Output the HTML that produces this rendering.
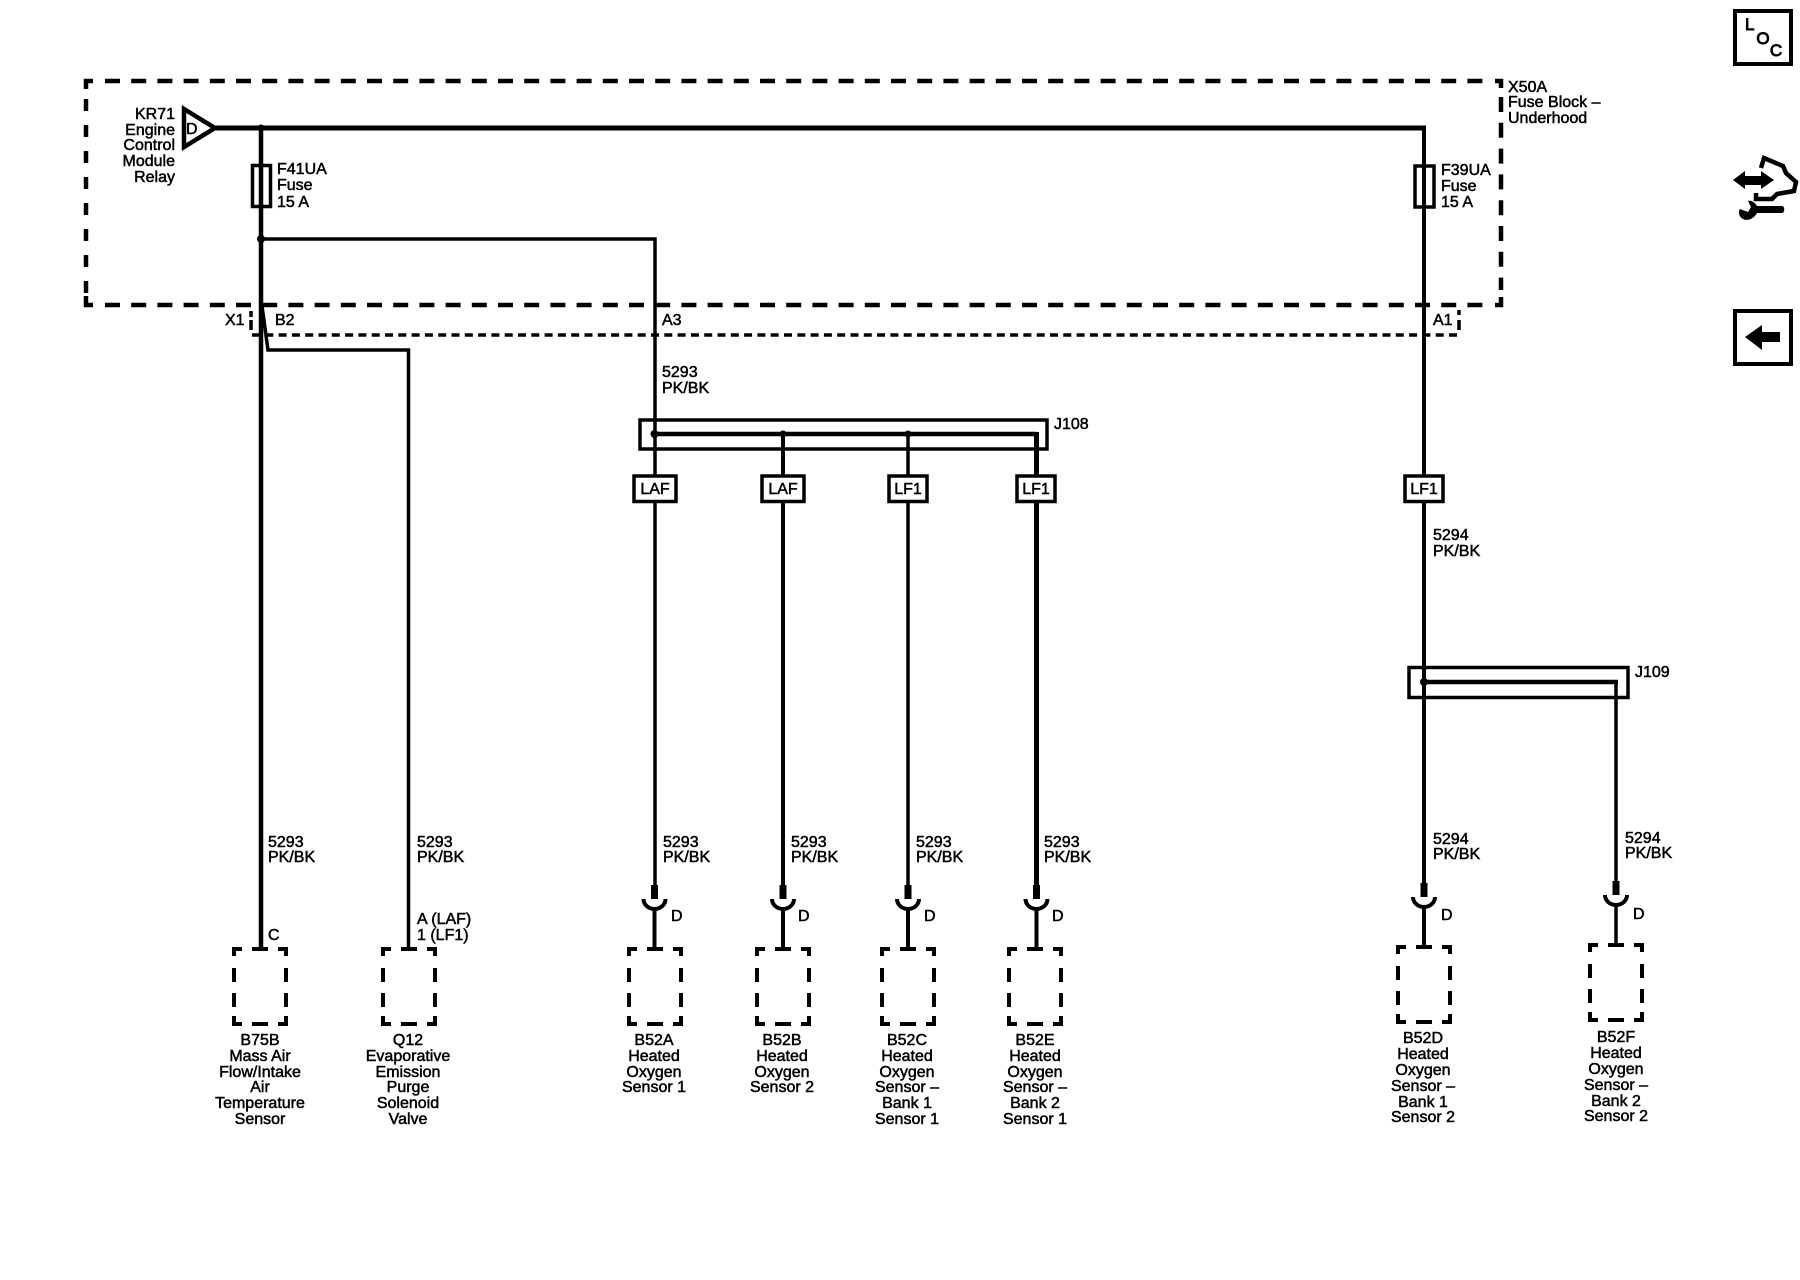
<!DOCTYPE html>
<html>
<head>
<meta charset="utf-8">
<style>
html,body{margin:0;padding:0;background:#fff}
svg{display:block}
text{font-family:"Liberation Sans",sans-serif;font-size:16px;fill:#000;stroke:#000;stroke-width:.5}
.m{text-anchor:middle}
.e{text-anchor:end}
.b{font-size:17px;stroke-width:.9}
</style>
</head>
<body>
<svg width="1800" height="1280" viewBox="0 0 1800 1280" xmlns="http://www.w3.org/2000/svg">
<defs>
<g id="box" fill="none" stroke="#000" stroke-width="4">
<path d="M8 0H0V7M44 0H52V7M0 67V75H8M52 67V75H44M18 0H34M18 75H34M0 19V33M0 44V58M52 19V33M52 44V58"/>
</g>
<g id="conn" fill="none" stroke="#000">
<path d="M0 -14V0" stroke-width="7"/>
<path d="M-11 0A11 10 0 0 0 11 0" stroke-width="4"/>
</g>
</defs>
<rect width="1800" height="1280" fill="#fff"/>

<!-- fuse block dashed outline -->
<g fill="none" stroke="#000" stroke-width="4.5">
<path d="M105 81H1492" stroke-dasharray="15 11.2"/>
<path d="M105 305H1492" stroke-dasharray="15 11.2"/>
<path d="M86 99V296" stroke-dasharray="12 14"/>
<path d="M1501 97V290" stroke-dasharray="15 10.8"/>
<path d="M93 81H86V89M93 305H86V296M1495 81H1501V88M1495 305H1501V297"/>
</g>
<!-- connector dashed -->
<g fill="none" stroke="#000" stroke-width="3.5">
<path d="M252 335H1459" stroke-dasharray="8 5.3"/>
<path d="M251 311V317M251 320V330M1459 310V315M1459 320V330"/>
</g>

<!-- wires -->
<g fill="none" stroke="#000" stroke-linejoin="miter">
<path d="M215 128H1426" stroke-width="5"/>
<path d="M1424 126V884" stroke-width="4"/>
<path d="M261 128V948" stroke-width="4.5"/>
<path d="M261 239H655V885" stroke-width="3.5"/>
<path d="M262 306L268 350H408.500V948" stroke-width="3.500"/>
<path d="M654.500 434H1036.500" stroke-width="4.500"/>
<path d="M783 434V885" stroke-width="4"/>
<path d="M908 434V885" stroke-width="3.500"/>
<path d="M1036.500 432V885" stroke-width="5"/>
<path d="M1424 682H1618" stroke-width="4.500"/>
<path d="M1616 680V882" stroke-width="3.500"/>
<path d="M654.500 909V948M783 909V948M908 909V948M1036.500 909V948M1424 908V947" stroke-width="4"/>
<path d="M1616 906V945" stroke-width="3.500"/>
</g>

<!-- relay triangle -->
<path d="M184 109L215 128L184 147Z" fill="#fff" stroke="#000" stroke-width="4.500"/>
<!-- fuses -->
<rect x="252.500" y="165.500" width="18" height="41" fill="none" stroke="#000" stroke-width="3.500"/>
<rect x="1415" y="166" width="19" height="41" fill="none" stroke="#000" stroke-width="3.500"/>
<!-- junction dots -->
<g fill="#000">
<circle cx="261" cy="128" r="3.500"/>
<circle cx="261" cy="239" r="4"/>
<circle cx="654.500" cy="434" r="4"/>
<circle cx="783" cy="434" r="3.500"/>
<circle cx="908" cy="434" r="3.500"/>
<circle cx="1424" cy="682" r="4"/>
</g>
<!-- splices -->
<rect x="640" y="420" width="407" height="29" fill="none" stroke="#000" stroke-width="3.500"/>
<rect x="1409" y="667.500" width="219" height="30" fill="none" stroke="#000" stroke-width="3.500"/>
<!-- option tags -->
<g fill="#fff" stroke="#000" stroke-width="3.500">
<rect x="634" y="476" width="42" height="25.500"/>
<rect x="762" y="476" width="42" height="25.500"/>
<rect x="889" y="476" width="38" height="25.500"/>
<rect x="1017" y="476" width="38" height="25.500"/>
<rect x="1405" y="476" width="38" height="25.500"/>
</g>
<!-- connectors -->
<use href="#conn" x="654.500" y="899"/>
<use href="#conn" x="783" y="899"/>
<use href="#conn" x="908" y="899"/>
<use href="#conn" x="1036.500" y="899"/>
<use href="#conn" x="1424" y="897"/>
<use href="#conn" x="1616" y="895"/>
<!-- component boxes -->
<use href="#box" x="234" y="949"/>
<use href="#box" x="383" y="949"/>
<use href="#box" x="629" y="949"/>
<use href="#box" x="757" y="949"/>
<use href="#box" x="882" y="949"/>
<use href="#box" x="1009" y="949"/>
<use href="#box" x="1398" y="947"/>
<use href="#box" x="1590" y="945"/>

<!-- labels top -->
<text class="e" x="175" y="119">KR71</text>
<text class="e" x="175" y="135">Engine</text>
<text class="e" x="175" y="150">Control</text>
<text class="e" x="175" y="166">Module</text>
<text class="e" x="175" y="182">Relay</text>
<text x="186" y="134">D</text>
<text x="277" y="174">F41UA</text>
<text x="277" y="190">Fuse</text>
<text x="277" y="207">15 A</text>
<text x="1441" y="175">F39UA</text>
<text x="1441" y="191">Fuse</text>
<text x="1441" y="207">15 A</text>
<text x="1508" y="92">X50A</text>
<text x="1508" y="107">Fuse Block –</text>
<text x="1508" y="123">Underhood</text>
<text x="225" y="325">X1</text>
<text x="275" y="325">B2</text>
<text x="662" y="325">A3</text>
<text x="1433" y="325">A1</text>
<text x="662" y="377">5293</text>
<text x="662" y="393">PK/BK</text>
<text x="1054" y="429">J108</text>
<text x="1635" y="677">J109</text>
<text x="1433" y="540">5294</text>
<text x="1433" y="556">PK/BK</text>

<!-- tags -->
<text class="m" x="655" y="494">LAF</text>
<text class="m" x="783" y="494">LAF</text>
<text class="m" x="908" y="494">LF1</text>
<text class="m" x="1036" y="494">LF1</text>
<text class="m" x="1424" y="494">LF1</text>

<!-- wire labels -->
<text x="268" y="847">5293</text><text x="268" y="862">PK/BK</text>
<text x="417" y="847">5293</text><text x="417" y="862">PK/BK</text>
<text x="663" y="847">5293</text><text x="663" y="862">PK/BK</text>
<text x="791" y="847">5293</text><text x="791" y="862">PK/BK</text>
<text x="916" y="847">5293</text><text x="916" y="862">PK/BK</text>
<text x="1044" y="847">5293</text><text x="1044" y="862">PK/BK</text>
<text x="1433" y="844">5294</text><text x="1433" y="859">PK/BK</text>
<text x="1625" y="843">5294</text><text x="1625" y="858">PK/BK</text>

<text x="268" y="940">C</text>
<text x="417" y="924">A (LAF)</text>
<text x="417" y="940">1 (LF1)</text>
<text x="671" y="921">D</text>
<text x="798" y="921">D</text>
<text x="924" y="921">D</text>
<text x="1052" y="921">D</text>
<text x="1441" y="920">D</text>
<text x="1633" y="919">D</text>

<!-- component labels -->
<g>
<text class="m" x="260" y="1045">B75B</text>
<text class="m" x="260" y="1061">Mass Air</text>
<text class="m" x="260" y="1077">Flow/Intake</text>
<text class="m" x="260" y="1092">Air</text>
<text class="m" x="260" y="1108">Temperature</text>
<text class="m" x="260" y="1124">Sensor</text>

<text class="m" x="408" y="1045">Q12</text>
<text class="m" x="408" y="1061">Evaporative</text>
<text class="m" x="408" y="1077">Emission</text>
<text class="m" x="408" y="1092">Purge</text>
<text class="m" x="408" y="1108">Solenoid</text>
<text class="m" x="408" y="1124">Valve</text>

<text class="m" x="654" y="1045">B52A</text>
<text class="m" x="654" y="1061">Heated</text>
<text class="m" x="654" y="1077">Oxygen</text>
<text class="m" x="654" y="1092">Sensor 1</text>

<text class="m" x="782" y="1045">B52B</text>
<text class="m" x="782" y="1061">Heated</text>
<text class="m" x="782" y="1077">Oxygen</text>
<text class="m" x="782" y="1092">Sensor 2</text>

<text class="m" x="907" y="1045">B52C</text>
<text class="m" x="907" y="1061">Heated</text>
<text class="m" x="907" y="1077">Oxygen</text>
<text class="m" x="907" y="1092">Sensor –</text>
<text class="m" x="907" y="1108">Bank 1</text>
<text class="m" x="907" y="1124">Sensor 1</text>

<text class="m" x="1035" y="1045">B52E</text>
<text class="m" x="1035" y="1061">Heated</text>
<text class="m" x="1035" y="1077">Oxygen</text>
<text class="m" x="1035" y="1092">Sensor –</text>
<text class="m" x="1035" y="1108">Bank 2</text>
<text class="m" x="1035" y="1124">Sensor 1</text>

<text class="m" x="1423" y="1043">B52D</text>
<text class="m" x="1423" y="1059">Heated</text>
<text class="m" x="1423" y="1075">Oxygen</text>
<text class="m" x="1423" y="1091">Sensor –</text>
<text class="m" x="1423" y="1107">Bank 1</text>
<text class="m" x="1423" y="1122">Sensor 2</text>

<text class="m" x="1616" y="1042">B52F</text>
<text class="m" x="1616" y="1058">Heated</text>
<text class="m" x="1616" y="1074">Oxygen</text>
<text class="m" x="1616" y="1090">Sensor –</text>
<text class="m" x="1616" y="1106">Bank 2</text>
<text class="m" x="1616" y="1121">Sensor 2</text>
</g>

<!-- side icons -->
<rect x="1735" y="11" width="56" height="53" fill="none" stroke="#000" stroke-width="4"/>
<text class="b" x="1745" y="30">L</text>
<text class="m b" x="1763" y="44">O</text>
<text class="m b" x="1776" y="56">C</text>

<g fill="#000" stroke="none">
<path d="M1733 180L1745 171V176H1761V171L1774 180L1761 189V185H1745V189Z"/>
<path d="M1748 201C1752 200 1755 203 1757 206H1782C1785 206 1785 213 1782 213H1757C1755 217 1749 222 1743 219C1739 217 1738 212 1740 209L1748 212L1751 207Z"/>
</g>
<path d="M1761 168L1764 158L1783 166L1786 173L1796 182L1794 191L1777 194L1772 199H1756V193" fill="none" stroke="#000" stroke-width="4.5"/>

<rect x="1735" y="311" width="56" height="53" fill="none" stroke="#000" stroke-width="4"/>
<path d="M1745 337L1762 325V332H1780V342H1762V350Z" fill="#000"/>
</svg>
</body>
</html>
